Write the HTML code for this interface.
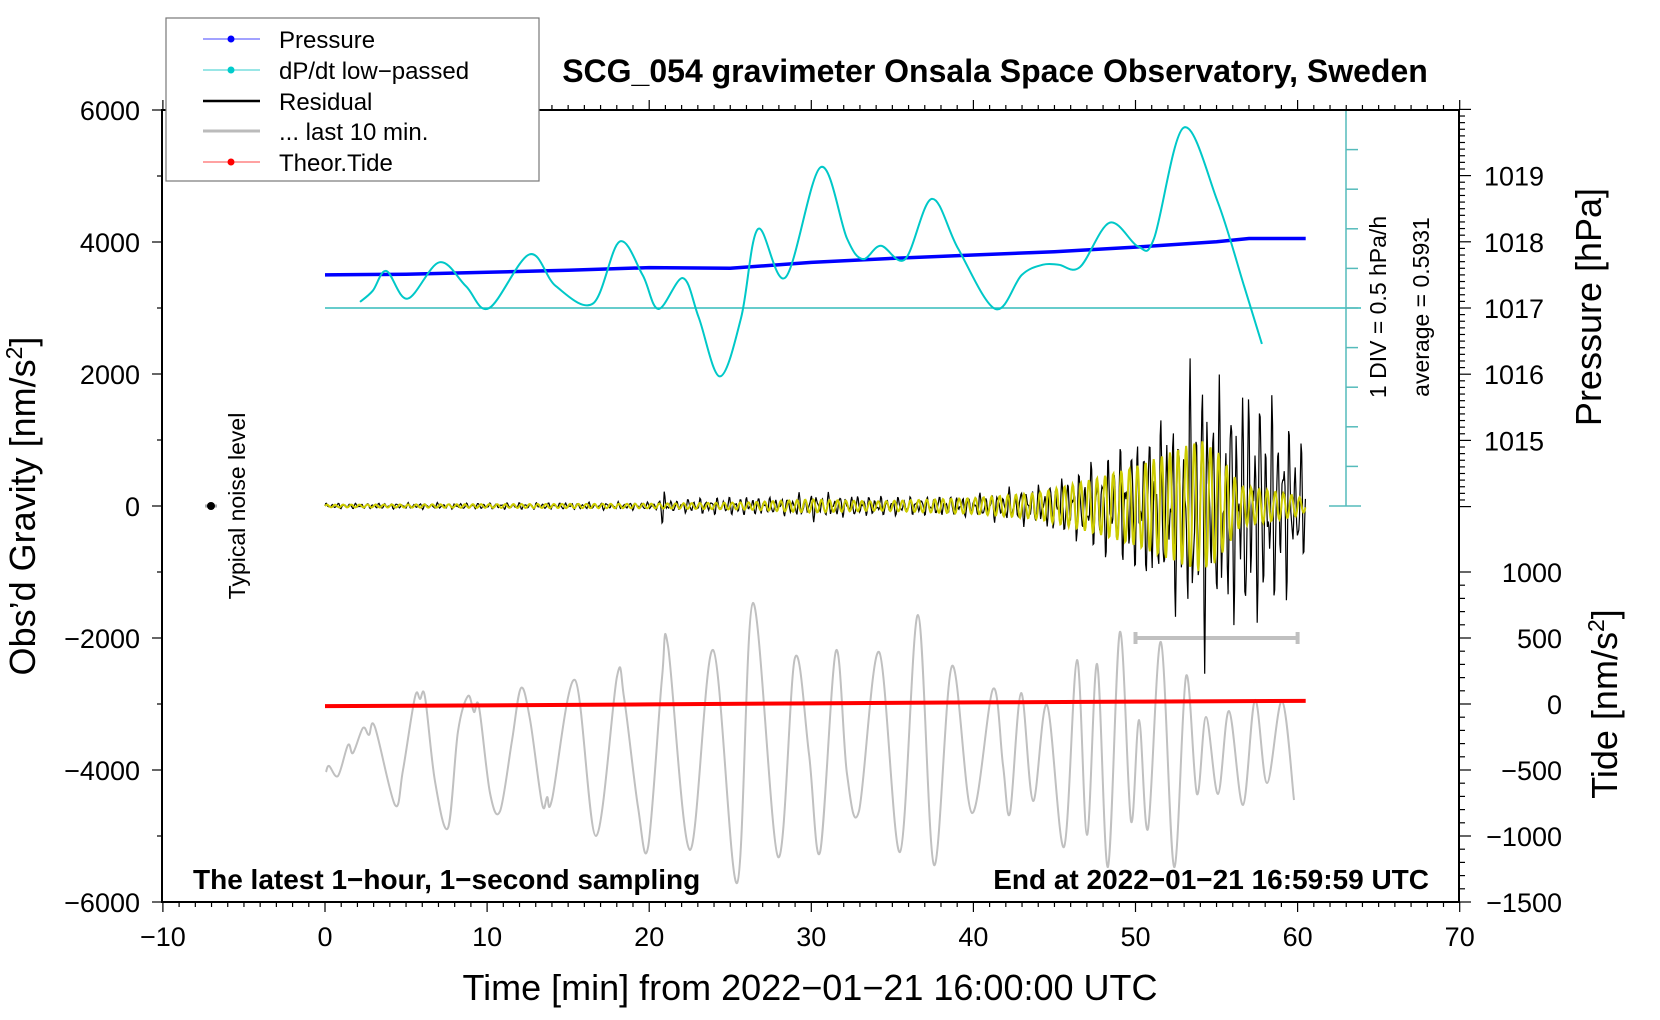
<!DOCTYPE html>
<html><head><meta charset="utf-8">
<style>
body{margin:0;background:#fff;}
svg{display:block;font-family:"Liberation Sans",sans-serif;}
</style></head>
<body>
<svg id="chart" width="1660" height="1020" viewBox="0 0 1660 1020" xmlns="http://www.w3.org/2000/svg">
  <rect x="0" y="0" width="1660" height="1020" fill="#fff"/>
  <g id="marks"></g>
  <g id="axes"></g>
  <text x="995" y="82" font-size="32" font-weight="bold" text-anchor="middle">SCG_054 gravimeter Onsala Space Observatory, Sweden</text>
  <text x="193" y="889" font-size="28" font-weight="bold">The latest 1−hour, 1−second sampling</text>
  <text x="1429" y="889" font-size="28" font-weight="bold" text-anchor="end">End at 2022−01−21 16:59:59 UTC</text>
  <text x="810" y="1000" font-size="36" text-anchor="middle">Time [min] from 2022−01−21 16:00:00 UTC</text>
  <text transform="translate(35,506) rotate(-90)" font-size="36" text-anchor="middle">Obs’d Gravity [nm/s<tspan baseline-shift="super" font-size="23">2</tspan>]</text>
  <text transform="translate(1601,307) rotate(-90)" font-size="36" text-anchor="middle">Pressure [hPa]</text>
  <text transform="translate(1617,704) rotate(-90)" font-size="36" text-anchor="middle">Tide [nm/s<tspan baseline-shift="super" font-size="23">2</tspan>]</text>
  <text transform="translate(245,506) rotate(-90)" font-size="23" text-anchor="middle">Typical noise level</text>
  <text transform="translate(1386,307) rotate(-90)" font-size="23" text-anchor="middle">1 DIV = 0.5 hPa/h</text>
  <text transform="translate(1429,307) rotate(-90)" font-size="23" text-anchor="middle">average = 0.5931</text>
  <g>
    <rect x="166" y="18" width="373" height="163" fill="#fff" stroke="#777" stroke-width="1.2"/>
    <g><line x1="203" y1="39" x2="260" y2="39" stroke="#4444ff" stroke-width="1"/><circle cx="231" cy="39" r="3.5" fill="#0000ff"/><text x="279" y="48" font-size="24">Pressure</text></g>
    <g><line x1="203" y1="70" x2="260" y2="70" stroke="#33cccc" stroke-width="1"/><circle cx="231" cy="70" r="3.5" fill="#00cccc"/><text x="279" y="79" font-size="24">dP/dt low−passed</text></g>
    <g><line x1="203" y1="101" x2="260" y2="101" stroke="#000" stroke-width="2.5"/><text x="279" y="110" font-size="24">Residual</text></g>
    <g><line x1="203" y1="131" x2="260" y2="131" stroke="#bbb" stroke-width="3"/><text x="279" y="140" font-size="24">... last 10 min.</text></g>
    <g><line x1="203" y1="162" x2="260" y2="162" stroke="#ff4444" stroke-width="1"/><circle cx="231" cy="162" r="3.5" fill="#ff0000"/><text x="279" y="171" font-size="24">Theor.Tide</text></g>
  </g>
</svg>
<script>
// ---- data ----
const xTicks = [-10,0,10,20,30,40,50,60,70];
const gravTicks = [-6000,-4000,-2000,0,2000,4000,6000];
const pressTicks = [1015,1016,1017,1018,1019];
const tideTicks = [-1500,-1000,-500,0,500,1000];
const pressT = [0,5,10,15,20,25,30,35,40,45,50,55,57,60.5];
const pressV = [1017.50,1017.51,1017.54,1017.57,1017.61,1017.60,1017.69,1017.75,1017.80,1017.85,1017.92,1018.00,1018.05,1018.05];
const dpdtT = [2.16,2.94,3.79,5.09,7.05,8.69,10.12,12.61,14.24,16.53,18.16,19.59,20.57,22.08,23.06,24.36,25.67,26.71,28.41,30.57,32.2,33.18,34.29,35.79,37.43,39.06,41.35,42.98,44.29,45.26,46.57,48.4,50.16,51.14,52.97,55.06,56.7,57.8];
const dpdtV = [0.67,0.81,1.06,0.71,1.17,0.87,0.59,1.27,0.87,0.65,1.43,1.01,0.58,0.97,0.47,-0.27,0.47,1.59,0.98,2.37,1.47,1.21,1.38,1.21,1.97,1.34,0.58,1.01,1.14,1.14,1.11,1.67,1.37,1.47,2.87,1.94,0.87,0.14];
const dpdtAvg = 0.5931;
const tideT = [0,10,20,30,40,50,60.5];
const tideV = [-16,-10,-3,5,12,18,24];
const lastT = [0.06,0.25,0.8,1.42,1.73,2.34,2.71,3.08,4.32,4.81,5.55,5.86,6.17,6.79,7.59,8.2,8.82,9.19,9.5,10.18,10.8,11.54,12.09,12.65,13.39,13.7,14.01,15.42,16.72,18.01,18.45,19.31,19.93,20.79,21.16,22.52,23.94,25.42,26.4,27.95,28.99,29.86,30.54,31.52,32.2,32.94,34.18,35.47,36.58,37.57,38.68,39.91,41.21,41.83,42.26,42.94,43.68,44.54,45.59,46.39,47.01,47.63,48.3,49.04,49.72,50.22,50.77,51.57,52.38,53.12,53.79,54.35,55.09,55.77,56.63,57.37,58.11,59.04,59.78];
const lastV = [-4030,-3939,-4090,-3621,-3742,-3363,-3469,-3348,-4530,-4000,-2894,-2924,-2894,-4181,-4878,-3424,-2879,-3121,-3045,-4348,-4621,-3545,-2757,-3242,-4515,-4409,-4439,-2636,-5000,-2591,-2909,-4560,-5166,-2606,-2121,-5212,-2182,-5712,-1470,-5318,-2303,-3757,-5242,-2197,-4060,-4621,-2212,-5242,-1651,-5439,-2424,-4651,-2772,-3939,-4651,-2833,-4469,-3015,-5166,-2333,-4984,-2394,-5469,-1909,-4772,-3242,-4893,-2060,-5469,-2576,-4363,-3197,-4363,-3106,-4530,-2939,-4197,-2954,-4454];
const resEnvT = [0,10,20,20.6,20.9,21.2,22,26,28,30,32,36,40,42,44,46,48,50,52,53,54,55,56,57,58,59,60,60.5];
const resEnvV = [40,45,55,70,380,70,100,140,120,200,160,130,160,230,300,450,700,1000,1300,1600,2200,1700,1700,1800,1600,1400,1000,700];
const yelEnvT = [0,20,26,30,34,40,44,46,48,50,52,54,55,56.5,58,60,60.5];
const yelEnvV = [20,35,55,100,70,120,200,320,450,600,800,1000,850,300,250,150,80];

// ---- scales ----
const X = t => 325 + t*16.21;
const YG = g => 506 - g*0.066;
const YP = p => 308 - (p-1017)*66.2;
const YT = v => 704 - v*0.132;
const YD = v => 308 - (v-dpdtAvg)/0.5*39.6;
const NS = "http://www.w3.org/2000/svg";
const marks = document.getElementById('marks');
const axes = document.getElementById('axes');
function mk(tag, attrs, parent){const e=document.createElementNS(NS,tag);for(const k in attrs)e.setAttribute(k,attrs[k]);parent.appendChild(e);return e;}
function interp(ts,vs,t){if(t<=ts[0])return vs[0];for(let i=1;i<ts.length;i++){if(t<=ts[i]){const f=(t-ts[i-1])/(ts[i]-ts[i-1]);return vs[i-1]+f*(vs[i]-vs[i-1]);}}return vs[vs.length-1];}
function smoothPath(pts){let d=`M${pts[0][0].toFixed(1)},${pts[0][1].toFixed(1)}`;for(let i=0;i<pts.length-1;i++){const p0=pts[i-1]||pts[i],p1=pts[i],p2=pts[i+1],p3=pts[i+2]||p2;const c1=[p1[0]+(p2[0]-p0[0])/6,p1[1]+(p2[1]-p0[1])/6],c2=[p2[0]-(p3[0]-p1[0])/6,p2[1]-(p3[1]-p1[1])/6];d+=`C${c1[0].toFixed(1)},${c1[1].toFixed(1)} ${c2[0].toFixed(1)},${c2[1].toFixed(1)} ${p2[0].toFixed(1)},${p2[1].toFixed(1)}`;}return d;}

// cyan reference scale
let g = mk('g',{},marks);


mk('line',{x1:X(0),y1:YD(dpdtAvg),x2:1361,y2:YD(dpdtAvg),stroke:'#33bbbb','stroke-width':1.5},g);
mk('line',{x1:1346,y1:YD(dpdtAvg+2.5),x2:1346,y2:YD(dpdtAvg-2.5),stroke:'#55bbbb','stroke-width':1.5},g);
for(let k=-5;k<=5;k++){const y=YD(dpdtAvg+k*0.5);const big=(k===5||k===-5);mk('line',{x1:big?1329:1346,y1:y,x2:big?1361:1358,y2:y,stroke:'#55bbbb','stroke-width':1.5},g);}

// gray last-10-min trace
let p = mk('path',{d:smoothPath(lastT.map((t,i)=>[X(t),YG(lastV[i])])),fill:'none',stroke:'#c0c0c0','stroke-width':2},marks);


g = mk('g',{},marks);


mk('line',{x1:X(50),y1:YG(-2000),x2:X(60),y2:YG(-2000),stroke:'#c0c0c0','stroke-width':4},g);
mk('line',{x1:X(50),y1:YG(-2000)-6,x2:X(50),y2:YG(-2000)+6,stroke:'#c0c0c0','stroke-width':4},g);
mk('line',{x1:X(60),y1:YG(-2000)-6,x2:X(60),y2:YG(-2000)+6,stroke:'#c0c0c0','stroke-width':4},g);

// residual (black) from envelope
let rp=[];for(let t=0;t<=60.5;t+=0.045){const e=interp(resEnvT,resEnvV,t);const s=Math.sin(t*2*Math.PI/0.36)*(0.65+0.35*Math.cos(t*7.3))+0.25*Math.sin(t*31);rp.push(`${X(t).toFixed(1)},${YG(e*s).toFixed(1)}`);}
p = mk('polyline',{points:rp.join(' '),fill:'none',stroke:'#000','stroke-width':1.2},marks);


let yp=[];for(let t=0;t<=60.5;t+=0.04){const e=interp(yelEnvT,yelEnvV,t);const s=Math.sin(t*2*Math.PI/0.5);yp.push(`${X(t).toFixed(1)},${YG(e*s).toFixed(1)}`);}
p = mk('polyline',{points:yp.join(' '),fill:'none',stroke:'#cccc00','stroke-width':2},marks);



// tide
p = mk('polyline',{points:tideT.map((t,i)=>`${X(t)},${YT(tideV[i])}`).join(' '),fill:'none',stroke:'#ff0000','stroke-width':4},marks);


// pressure
p = mk('polyline',{points:pressT.map((t,i)=>`${X(t)},${YP(pressV[i])}`).join(' '),fill:'none',stroke:'#0000ff','stroke-width':3.5},marks);


// dp/dt
p = mk('path',{d:smoothPath(dpdtT.map((t,i)=>[X(t),YD(dpdtV[i])])),fill:'none',stroke:'#00c8c8','stroke-width':2},marks);



// noise marker
g = mk('g',{},marks);


mk('line',{x1:205,y1:506,x2:217,y2:506,stroke:'#aaa','stroke-width':3},g);
mk('circle',{cx:211,cy:506,r:4,fill:'#000'},g);

// ---- axes ----
mk('rect',{x:162,y:110,width:1297,height:792,fill:'none',stroke:'#000','stroke-width':2},axes);
for(let t=-10;t<=70;t++){const x=X(t);const maj=t%10===0;
  mk('line',{x1:x,y1:902,x2:x,y2:maj?912:907,stroke:'#000','stroke-width':1.2},axes);
  mk('line',{x1:x,y1:110,x2:x,y2:maj?100:105,stroke:'#000','stroke-width':1.2},axes);}
xTicks.forEach(t=>{const e=mk('text',{x:X(t),y:946,'font-size':27,'text-anchor':'middle'},axes);e.textContent=String(t).replace('-','−');
  
  });
for(let v=-6000;v<=6000;v+=1000){const y=YG(v);const maj=v%2000===0;mk('line',{x1:162,y1:y,x2:maj?152:157,y2:y,stroke:'#000','stroke-width':1.2},axes);}
gravTicks.forEach(v=>{const e=mk('text',{x:140,y:YG(v)+10,'font-size':27,'text-anchor':'end'},axes);e.textContent=String(v).replace('-','−');
  
  });
for(let k=0;k<=60;k++){const pv=1014+k*0.1;const y=YP(pv);const maj=k%10===0;mk('line',{x1:1459,y1:y,x2:maj?1471:1465,y2:y,stroke:'#000','stroke-width':1.2},axes);}
pressTicks.forEach(v=>{const e=mk('text',{x:1484,y:YP(v)+10,'font-size':27},axes);e.textContent=v;
  
  });
for(let v=-1500;v<=1000;v+=100){const y=YT(v);const maj=v%500===0;mk('line',{x1:1459,y1:y,x2:maj?1471:1465,y2:y,stroke:'#000','stroke-width':1.2},axes);}
tideTicks.forEach(v=>{const e=mk('text',{x:1562,y:YT(v)+10,'font-size':27,'text-anchor':'end'},axes);e.textContent=String(v).replace('-','−');
  
  });
</script>
</body></html>
